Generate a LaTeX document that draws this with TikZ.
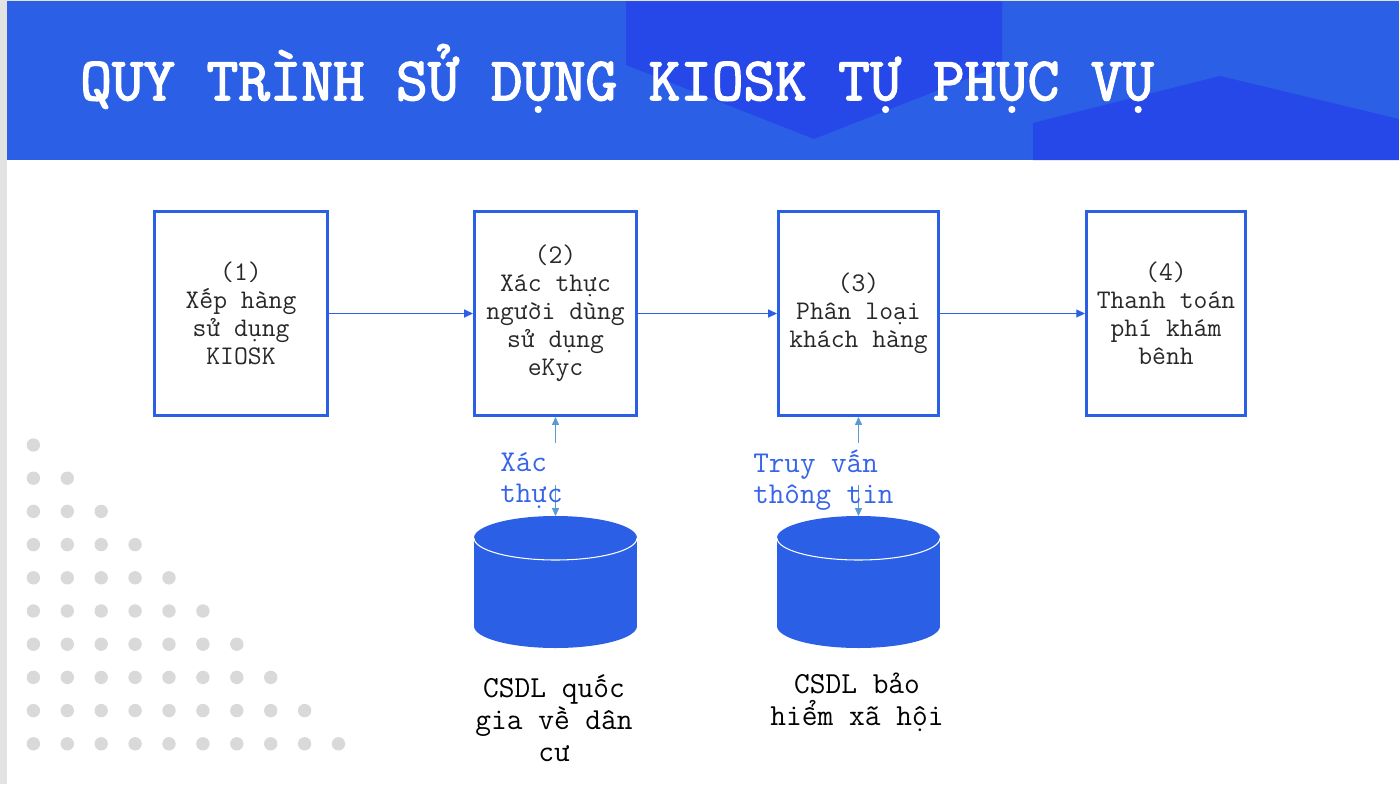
\documentclass[tikz,border=0pt]{standalone}
\usepackage{fontspec}
\setmonofont{Latin Modern Mono}
\newfontfamily\titlefont[FakeBold=2.5]{Latin Modern Mono}
\usetikzlibrary{arrows.meta}
\definecolor{hdrblue}{RGB}{42,95,230}
\definecolor{hdrdark}{RGB}{38,72,232}
\definecolor{boxblue}{RGB}{42,95,230}
\definecolor{linkblue}{RGB}{91,155,213}
\definecolor{lblblue}{RGB}{55,100,232}
\definecolor{dotgray}{RGB}{217,217,217}
\definecolor{stripgray}{RGB}{226,226,226}
\definecolor{txtgray}{RGB}{40,40,40}

\begin{document}
\begin{tikzpicture}[x = 0.02cm, y = -0.02cm,
    stepbox/.style = {draw = boxblue, line width = 1.7pt, align = center, text = txtgray,
        font = \ttfamily\fontsize{15.3pt}{15.9pt}\selectfont, minimum height = 4.08cm},
    flow/.style = {draw = boxblue, line width = 0.7pt, -{Triangle[length = 5pt, width = 4.5pt]}},
    query/.style = {draw = linkblue, line width = 0.6pt, -{Triangle[length = 4.5pt, width = 4pt]}},
    qlabel/.style = {anchor = west, align = left, text = lblblue, inner sep = 0pt,
        font = \ttfamily\fontsize{17.2pt}{17.6pt}\selectfont},
    dblabel/.style = {align = center, text = black,
        font = \ttfamily\fontsize{17.4pt}{18.1pt}\selectfont}]
\useasboundingbox (0,0) rectangle (1399,784);

% background and header
\fill[stripgray] (0,0) rectangle (7,784);
\fill[stripgray] (0,0) rectangle (1399,1.5);
\fill[hdrblue] (7,1.5) rectangle (1399,160);
\fill[hdrdark] (626,1.5) -- (1002,1.5) -- (1002,65) -- (814,139) -- (626,65) -- cycle;
\fill[hdrdark] (1033,160) -- (1033,123) -- (1220,76) -- (1399,119) -- (1399,160) -- cycle;
\node[anchor = base west, inner sep = 0pt, text = white,
    font = \titlefont\fontsize{34.9pt}{40pt}\selectfont] (title) at (80,100)
    {QUY TRÌNH SỬ DỤNG KIOSK TỰ PHỤC VỤ};

% dots
\foreach \row in {0,...,9}
    \foreach \col in {0,...,\row}
        \fill[dotgray] (33.4+\col*33.9, 445+\row*33.2) circle (6.7);

% steps
\path
    (241,313.5) node[stepbox, minimum width = 3.46cm](s1){(1)\\Xếp hàng\\sử dụng\\KIOSK}
    (555.5,313.5) node[stepbox, minimum width = 3.24cm](s2){(2)\\Xác thực\\người dùng\\sử dụng\\eKyc}
    (858.5,313.5) node[stepbox, minimum width = 3.2cm](s3){(3)\\Phân loại\\khách hàng}
    (1166,313.5) node[stepbox, minimum width = 3.18cm](s4){(4)\\Thanh toán\\phí khám\\bênh};

\draw[flow] (s1) -- (s2);
\draw[flow] (s2) -- (s3);
\draw[flow] (s3) -- (s4);

% databases
\foreach \cx/\nm in {555.5/db1, 858.5/db2}{
    \fill[boxblue] (\cx-81.5,538) rectangle (\cx+81.5,626);
    \fill[boxblue] (\cx,626) ellipse (81.5 and 22);
    \fill[boxblue] (\cx,538) ellipse (81.5 and 22);
    \draw[white, line width = 0.6pt] (\cx-81.5,538) arc[start angle = 180, end angle = 0, x radius = 81.5, y radius = 22];
    \coordinate (\nm top) at (\cx,516);
}

\node[dblabel] (db1) at (554,718) {CSDL quốc\\gia về dân\\cư};
\node[dblabel] (db2) at (857,702) {CSDL bảo\\hiểm xã hội};

% queries
\coordinate (q1a) at (555.5,443);
\coordinate (q1b) at (555.5,485);
\coordinate (q2a) at (858.5,443);
\coordinate (q2b) at (858.5,485);
\draw[query] (q1a) -- (s2);
\draw[query] (q1b) -- (db1top);
\draw[query] (q2a) -- (s3);
\draw[query] (q2b) -- (db2top);

\node[qlabel] (l1) at (500,480.5) {Xác\\thực};
\node[qlabel] (l2) at (753,480.5) {Truy vấn\\thông tin};

\end{tikzpicture}
\end{document}
